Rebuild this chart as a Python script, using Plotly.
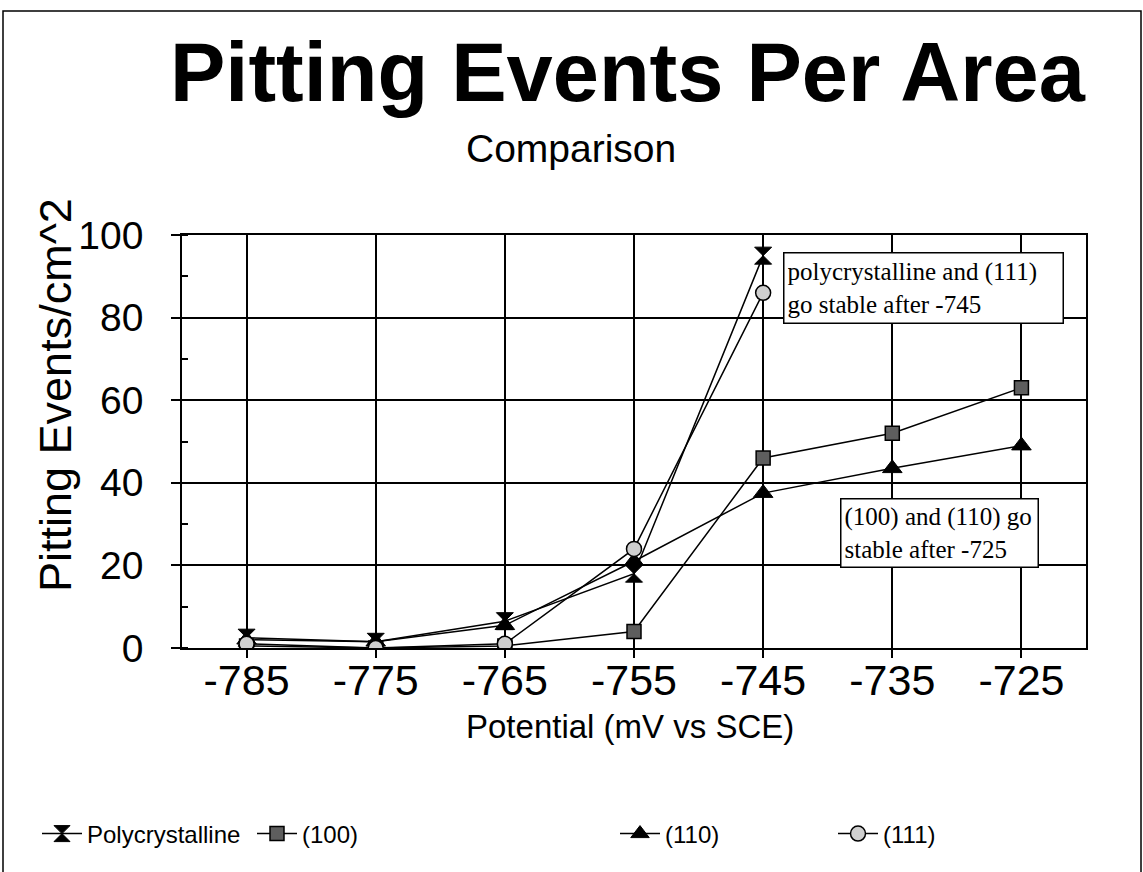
import plotly.graph_objects as go

potentials = [-785, -775, -765, -755, -745, -735, -725]
poly_vals = [2.5, 1.5, 6.5, 18, 95, None, None]
v100_vals = [0.5, 0, 0.5, 4, 46, 52, 63]
v110_vals = [2, 1.5, 5.5, 21, 37.5, 43.5, 49]
v111_vals = [1, 0, 1, 24, 86, None, None]
series_names = ["Polycrystalline", "(100)", "(110)", "(111)"]
y_ticks = [0, 20, 40, 60, 80, 100]

W, H = 1143, 872
L, R, T, B = 182, 1086, 235, 648
SANS = "Liberation Sans, Arial, sans-serif"
SERIF = "Liberation Serif, Times New Roman, serif"

def px(x):
    return (x - L) / (R - L)

def py(y):
    return (B - y) / (B - T)

fig = go.Figure()
styles = [
    dict(symbol="hourglass", size=17, color="black", line=dict(color="black", width=1)),
    dict(symbol="square", size=14, color="#5e5e5e", line=dict(color="black", width=1.5)),
    dict(symbol="triangle-up", size=17, color="black", line=dict(color="black", width=1)),
    dict(symbol="circle", size=15, color="#cfcfcf", line=dict(color="black", width=1.5)),
]
data = [poly_vals, v100_vals, v110_vals, v111_vals]
legends = ["legend", "legend2", "legend3", "legend4"]
for name, vals, st, lg in zip(series_names, data, styles, legends):
    fig.add_trace(go.Scatter(
        x=potentials, y=vals, name=name, mode="lines+markers",
        line=dict(color="black", width=1.5), marker=st, legend=lg,
        connectgaps=False,
    ))

leg_x = [37, 252, 615, 833]
leg_common = dict(orientation="h", yanchor="middle", xanchor="left", itemwidth=40,
                  font=dict(family=SANS, size=24, color="black"),
                  bgcolor="rgba(0,0,0,0)", borderwidth=0)
fig.update_layout(
    legend=dict(x=px(leg_x[0]), y=py(834), **leg_common),
    legend2=dict(x=px(leg_x[1]), y=py(834), **leg_common),
    legend3=dict(x=px(leg_x[2]), y=py(834), **leg_common),
    legend4=dict(x=px(leg_x[3]), y=py(834), **leg_common),
)

fig.update_xaxes(
    range=[-790, -720], tickvals=potentials, ticktext=[str(p) for p in potentials],
    showgrid=True, gridcolor="black", gridwidth=1.5,
    showline=True, linecolor="black", linewidth=1.5, mirror=True,
    ticks="outside", ticklen=8, tickcolor="black", tickwidth=1.5,
    tickfont=dict(family=SANS, size=43, color="black"), zeroline=False,
    ticklabelstandoff=-14,
)
fig.update_yaxes(
    range=[0, 100], tickvals=y_ticks,
    showgrid=True, gridcolor="black", gridwidth=1.5,
    showline=True, linecolor="black", linewidth=1.5, mirror=True,
    ticks="outside", ticklen=9, tickcolor="black", tickwidth=1.5,
    minor=dict(dtick=10, ticks="inside", ticklen=6, tickcolor="black", tickwidth=1.5, showgrid=False),
    tickfont=dict(family=SANS, size=39, color="black"), zeroline=False,
    ticklabelstandoff=20,
)

annotations = [
    dict(text="<b>Pitting Events Per Area</b>", x=px(628), y=py(72), xref="paper", yref="paper",
         xanchor="center", yanchor="middle", showarrow=False,
         font=dict(family=SANS, size=83, color="black")),
    dict(text="Comparison", x=px(571), y=py(148), xref="paper", yref="paper",
         xanchor="center", yanchor="middle", showarrow=False,
         font=dict(family=SANS, size=39, color="black")),
    dict(text="Pitting Events/cm^2", x=px(55), y=py(395), xref="paper", yref="paper",
         xanchor="center", yanchor="middle", showarrow=False, textangle=-90,
         font=dict(family=SANS, size=45, color="black")),
    dict(text="Potential (mV vs SCE)", x=px(630), y=py(726), xref="paper", yref="paper",
         xanchor="center", yanchor="middle", showarrow=False,
         font=dict(family=SANS, size=33, color="black")),
    dict(text="polycrystalline and (111)<br>go stable after -745", x=-743.5, y=96,
         xref="x", yref="y", xanchor="left", yanchor="top", showarrow=False, align="left",
         width=272, height=63,
         bgcolor="white", bordercolor="black", borderwidth=1.5, borderpad=3,
         font=dict(family=SERIF, size=25, color="black")),
    dict(text="(100) and (110) go<br>stable after -725", x=-739.05, y=36.3,
         xref="x", yref="y", xanchor="left", yanchor="top", showarrow=False, align="left",
         width=190, height=61,
         bgcolor="white", bordercolor="black", borderwidth=1.5, borderpad=3,
         font=dict(family=SERIF, size=25, color="black")),
]
fig.update_layout(annotations=annotations)

fig.add_shape(type="rect", xref="paper", yref="paper",
              x0=px(3), x1=px(1141), y0=py(880), y1=py(11),
              line=dict(color="black", width=1.5), layer="below")

fig.update_layout(
    width=W, height=H, autosize=False,
    margin=dict(l=L, r=W - R, t=T, b=H - B),
    paper_bgcolor="white", plot_bgcolor="white",
    showlegend=True,
)
fig.write_html("out.html", config={"displayModeBar": False},
               post_script="document.body.style.margin='0px';document.body.style.overflow='hidden';")
